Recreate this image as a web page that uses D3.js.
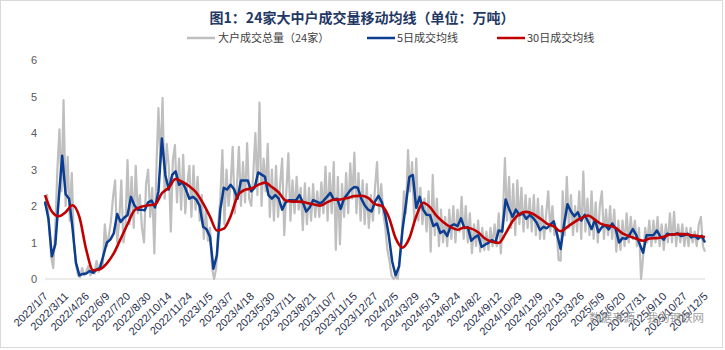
<!DOCTYPE html>
<html><head><meta charset="utf-8">
<script src="https://cdn.jsdelivr.net/npm/d3@7"></script>
<style>body{margin:0;background:#fff;} svg{display:block;}</style>
</head><body>
<svg id="chart" width="725" height="350"></svg>
<script>
const titleText = "图1：24家大中户成交量移动均线（单位：万吨）";
const seriesNames = ["大户成交总量（24家）", "5日成交均线", "30日成交均线"];
const sourceText = "数据来源：我的钢铁网";
const xLabels = ["2022/1/7","2022/3/11","2022/4/26","2022/6/9","2022/7/20","2022/8/30","2022/10/14","2022/11/24",
  "2023/1/5","2023/3/7","2023/4/18","2023/5/30","2023/7/11","2023/8/21","2023/10/7","2023/11/15","2023/12/27",
  "2024/2/5","2024/3/29","2024/5/13","2024/6/24","2024/8/2","2024/9/12","2024/10/29","2024/12/9",
  "2025/2/13","2025/3/26","2025/5/9","2025/6/20","2025/7/31","2025/9/10","2025/10/27","2025/12/5"];
const DAYS_PER_LABEL = 30;
const yTickValues = [0, 1, 2, 3, 4, 5, 6];

// daily total (sampled), 5-day MA (sampled), 30-day MA (sampled) — evenly spread over the trading days
const grayValues = [
2.0,2.3,1.5,0.6,0.3,1.4,3.0,4.1,2.4,4.9,
2.0,3.35,1.6,2.9,1.0,0.4,0.1,0.05,0.3,0.1,
0.2,0.35,0.1,0.25,0.15,0.5,0.2,0.45,0.35,1.5,
0.9,1.2,1.6,2.25,2.7,1.0,1.6,2.7,1.0,1.4,
3.26,1.5,2.8,1.4,3.1,1.8,2.3,1.4,1.0,2.6,
3.0,1.7,2.5,0.7,3.0,4.68,3.2,4.96,2.2,3.7,
3.1,1.3,3.26,3.67,2.1,3.3,1.9,3.4,1.8,2.6,
3.1,1.7,3.1,1.9,2.8,1.6,2.3,1.1,1.9,1.05,
1.4,0.3,0.0,0.3,1.5,2.2,3.53,1.5,3.0,2.0,
2.6,3.62,1.8,2.5,3.62,2.0,3.2,2.1,3.72,2.2,
2.0,2.9,4.0,2.3,4.83,2.0,3.3,2.4,3.7,1.7,
3.0,1.6,3.1,1.7,2.6,3.3,1.2,2.4,3.44,1.6,
2.7,1.8,2.8,1.9,2.5,1.34,2.62,1.5,2.5,1.6,
2.6,1.7,2.4,1.7,2.65,1.8,3.08,1.6,2.9,1.8,
3.2,0.8,2.8,0.95,2.6,1.7,2.9,1.8,3.17,2.2,
3.46,1.8,2.9,1.6,2.7,1.5,2.6,1.4,2.3,1.6,
2.5,3.2,1.8,2.6,1.8,1.4,0.8,0.5,0.1,0.0,
0.05,0.0,0.5,1.2,2.4,1.8,3.53,2.4,3.2,1.6,
3.3,1.6,2.5,1.5,2.2,1.3,2.4,0.75,2.85,1.2,
2.2,0.9,1.9,1.0,1.7,0.9,1.9,1.1,2.0,1.0,
1.9,1.3,2.25,1.1,2.0,1.0,1.8,0.71,1.5,0.9,
1.6,0.75,1.4,0.8,1.3,0.8,1.4,0.9,1.5,0.9,
1.8,0.7,1.7,3.31,1.6,2.8,1.4,2.6,1.2,2.7,
1.5,2.5,1.3,2.3,1.4,2.2,1.3,2.3,1.2,2.2,
1.1,2.0,1.1,1.8,2.4,1.3,2.0,1.2,1.4,0.52,
0.5,2.4,1.2,2.8,1.4,2.3,1.2,2.0,1.3,2.4,
1.1,2.94,1.3,2.2,1.2,2.4,1.1,2.1,1.0,2.0,
2.4,1.1,1.9,1.2,2.0,1.1,1.9,0.75,1.6,0.8,
1.6,0.9,1.8,1.0,1.7,1.1,1.6,0.9,1.4,0.0,
0.6,1.4,1.0,1.6,0.9,1.6,1.0,1.7,0.9,1.5,
0.8,1.5,1.0,1.8,1.0,1.84,0.9,1.5,1.0,1.5,
0.9,1.4,0.9,1.4,1.0,1.3,0.9,1.5,1.7,0.9,
0.75];

const ma5Values = [
2.12,1.65,0.62,0.95,2.20,3.38,2.32,2.20,1.40,0.45,
0.10,0.14,0.15,0.22,0.17,0.26,0.30,0.65,1.00,1.08,
1.25,1.78,1.56,1.68,1.75,2.25,2.02,1.90,1.90,1.88,
2.10,2.15,1.96,2.40,3.85,2.85,2.45,2.85,2.95,2.58,
2.65,2.45,2.20,2.25,2.18,2.00,1.43,1.36,1.16,0.28,
0.65,1.90,2.50,2.45,2.58,2.46,2.20,2.70,2.70,2.70,
2.40,2.50,2.92,2.86,2.80,2.30,2.20,2.30,2.20,1.90,
2.10,2.16,2.16,2.15,2.30,2.10,1.85,1.96,2.16,2.12,
2.07,2.14,2.25,2.36,2.18,2.20,1.92,2.20,2.33,2.45,
2.52,2.50,2.20,2.02,1.90,1.85,2.12,2.28,2.10,1.75,
1.20,0.48,0.10,0.35,1.35,2.05,2.80,2.85,1.95,2.25,
1.90,1.76,1.75,1.45,1.52,1.26,1.32,1.18,1.45,1.50,
1.45,1.66,1.40,1.42,1.05,1.14,1.20,0.88,0.94,0.99,
1.07,1.00,1.33,1.30,2.18,1.92,1.70,1.90,1.75,1.80,
1.65,1.75,1.67,1.55,1.34,1.43,1.39,1.49,1.58,1.22,
0.82,1.50,2.05,1.85,1.72,1.83,1.60,1.76,1.57,1.37,
1.62,1.28,1.42,1.47,1.36,1.52,1.38,1.00,1.12,1.10,
1.20,1.37,1.20,0.95,0.72,1.20,1.20,1.20,1.33,1.16,
1.08,1.24,1.22,1.22,1.25,1.18,1.20,1.24,1.14,1.18,
1.10,1.18,1.00];

const ma30Values = [
2.30,1.85,1.72,1.83,2.02,1.70,0.80,0.24,0.27,0.43,
0.70,1.10,1.50,1.88,1.98,2.02,2.04,2.35,2.50,2.74,
2.66,2.54,2.37,2.07,1.71,1.33,1.38,1.72,2.27,2.44,
2.48,2.58,2.64,2.52,2.37,2.15,2.12,2.12,2.09,2.05,
2.01,2.10,2.17,2.18,2.22,2.27,2.28,2.22,2.05,2.00,
1.70,1.12,0.86,1.12,1.72,2.09,1.97,1.72,1.55,1.42,
1.35,1.41,1.38,1.28,1.11,1.02,0.99,1.25,1.58,1.78,
1.84,1.78,1.66,1.52,1.44,1.31,1.43,1.56,1.67,1.74,
1.62,1.50,1.46,1.40,1.25,1.17,1.10,1.05,1.11,1.12,
1.16,1.22,1.23,1.23,1.20,1.18,1.15];

const colors = ["#bfbfbf", "#0b3d91", "#c00000"];

const svg = d3.select("#chart");
const W = 725, H = 350;
const plot = {left: 45, right: 705, top: 60, bottom: 279};
const totalDays = (xLabels.length - 1) * DAYS_PER_LABEL;

const x = d3.scaleLinear().domain([0, totalDays]).range([plot.left, plot.right]);
const y = d3.scaleLinear().domain([0, 6]).range([plot.bottom, plot.top]);

// outer border
svg.append("rect").attr("x", 0.5).attr("y", 0.5).attr("width", 722).attr("height", 347)
  .attr("fill", "#fff").attr("stroke", "#d9d9d9");

// title
svg.append("text").attr("x", 362).attr("y", 23).attr("text-anchor", "middle")
  .attr("font-family", "'Noto Sans CJK SC', sans-serif").attr("font-weight", "bold")
  .attr("font-size", 14).attr("fill", "#1f3864").text(titleText);

// legend
const legendPos = [{x: 187, tx: 218}, {x: 367, tx: 397}, {x: 497, tx: 527}];
const lg = svg.append("g");
seriesNames.forEach((name, i) => {
  lg.append("line").attr("x1", legendPos[i].x).attr("x2", legendPos[i].x + 28)
    .attr("y1", 38).attr("y2", 38).attr("stroke", colors[i]).attr("stroke-width", 2.5);
  lg.append("text").attr("x", legendPos[i].tx).attr("y", 38).attr("dy", "0.35em")
    .attr("font-family", "'Noto Sans CJK SC', sans-serif").attr("font-size", 11)
    .attr("fill", "#404040").text(name);
});

// y axis
const yAxis = svg.append("g").attr("transform", `translate(${plot.left},0)`)
  .call(d3.axisLeft(y).tickValues(yTickValues).tickSize(0).tickPadding(8).tickFormat(d3.format("d")));
yAxis.select(".domain").remove();
yAxis.selectAll("text").attr("font-family", "'Liberation Sans', Arial, sans-serif")
  .attr("font-size", 11).attr("fill", "#595959");

// baseline
svg.append("line").attr("x1", plot.left).attr("x2", plot.right)
  .attr("y1", y(0)).attr("y2", y(0)).attr("stroke", "#d9d9d9").attr("stroke-width", 1);

// series
function drawSeries(values, color, width, curve) {
  const step = totalDays / (values.length - 1);
  const line = d3.line().x((d, i) => x(i * step)).y(d => y(d)).curve(curve || d3.curveLinear);
  svg.append("path").datum(values).attr("d", line).attr("fill", "none")
    .attr("stroke", color).attr("stroke-width", width).attr("stroke-linejoin", "round");
}
drawSeries(grayValues, colors[0], 2.2);
drawSeries(ma5Values, colors[1], 2.5);
drawSeries(ma30Values, colors[2], 2.6, d3.curveMonotoneX);

// x axis
const xAxis = svg.append("g").attr("transform", `translate(0,${plot.bottom})`)
  .call(d3.axisBottom(x).tickValues(xLabels.map((d, i) => i * DAYS_PER_LABEL))
    .tickSize(0).tickFormat((d, i) => xLabels[i]));
xAxis.select(".domain").remove();
xAxis.selectAll("text").attr("x", 0).attr("y", 0).attr("dy", null)
  .attr("text-anchor", "end").attr("transform", "translate(3,18) rotate(-45)")
  .attr("font-family", "'Liberation Sans', Arial, sans-serif").attr("font-size", 11).attr("fill", "#1f2d4a");

// source watermark
svg.append("text").attr("x", 704).attr("y", 318).attr("dy", "0.35em").attr("text-anchor", "end")
  .attr("font-family", "'Noto Sans CJK SC', sans-serif").attr("font-size", 11.5)
  .attr("fill", "#8c8c8c").attr("opacity", 0.85).text(sourceText);
</script>
</body></html>
